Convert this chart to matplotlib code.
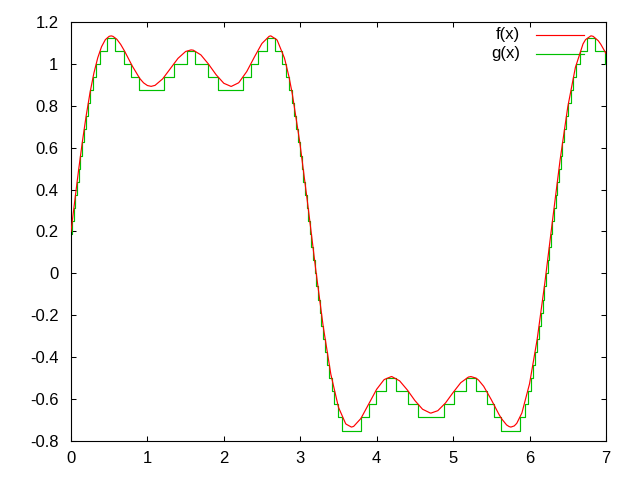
import matplotlib
matplotlib.use('Agg')
import matplotlib.pyplot as plt
from matplotlib.ticker import FuncFormatter

# f(x): smooth curve
f_x = [0.0, 0.1, 0.15, 0.2, 0.25, 0.3, 0.35, 0.4, 0.45, 0.5, 0.527, 0.55, 0.6, 0.65, 0.7,
       0.8, 0.9, 0.95, 1.0, 1.049, 1.1, 1.2, 1.3, 1.4, 1.5, 1.571, 1.6, 1.7, 1.8, 1.9,
       2.0, 2.093, 2.1, 2.192, 2.2, 2.3, 2.4, 2.492, 2.5, 2.592, 2.6, 2.615, 2.692, 2.7,
       2.792, 2.8, 2.852, 2.892, 2.9, 2.992, 3.0, 3.1, 3.2, 3.3, 3.4, 3.5, 3.592, 3.6,
       3.669, 3.692, 3.7, 3.792, 3.8, 3.9, 4.0, 4.092, 4.1, 4.191, 4.2, 4.3, 4.4, 4.5,
       4.6, 4.7, 4.712, 4.8, 4.9, 5.0, 5.1, 5.2, 5.234, 5.3, 5.333, 5.4, 5.5, 5.6, 5.633,
       5.7, 5.733, 5.756, 5.8, 5.833, 5.9, 6.0, 6.1, 6.2, 6.3, 6.4, 6.5, 6.6, 6.7, 6.733,
       6.8, 6.81, 6.833, 6.9, 6.933, 7.0]
f_y = [0.2000, 0.4942, 0.6308, 0.7552, 0.8644, 0.9561, 1.0288, 1.0820, 1.1158, 1.1316,
       1.1336, 1.1313, 1.1175, 1.0932, 1.0618, 0.9912, 0.9303, 0.9094, 0.8967, 0.8927,
       0.8975, 0.9286, 0.9773, 1.0263, 1.0592, 1.0667, 1.0654, 1.0428, 0.9987, 0.9477,
       0.9074, 0.8927, 0.8929, 0.9094, 0.9124, 0.9634, 1.0327, 1.0932, 1.0979, 1.1313,
       1.1324, 1.1336, 1.1158, 1.1114, 1.0288, 1.0180, 0.9393, 0.8644, 0.8472, 0.6308,
       0.6086, 0.3242, 0.0259, -0.2526, -0.4812, -0.6391, -0.7158, -0.7197, -0.7336,
       -0.7313, -0.7299, -0.6932, -0.6883, -0.6207, -0.5531, -0.5094, -0.5066, -0.4927,
       -0.4930, -0.5129, -0.5560, -0.6070, -0.6484, -0.6664, -0.6667, -0.6554, -0.6188,
       -0.5686, -0.5218, -0.4950, -0.4927, -0.5000, -0.5094, -0.5390, -0.6030, -0.6730,
       -0.6932, -0.7235, -0.7313, -0.7336, -0.7282, -0.7158, -0.6664, -0.5274, -0.3148,
       -0.0462, 0.2504, 0.5413, 0.7937, 0.9827, 1.0954, 1.1158, 1.1332, 1.1336, 1.1313,
       1.1103, 1.0932, 1.0502]

# g(x): staircase, start of each step and its level
g_x = [0.0, 0.0167, 0.0376, 0.0587, 0.0802, 0.1021, 0.1245, 0.1478, 0.1721, 0.1978,
       0.2253, 0.2553, 0.2890, 0.3285, 0.3795, 0.4720, 0.5787, 0.6990, 0.7877, 0.8851,
       1.2198, 1.3442, 1.5180, 1.6236, 1.7974, 1.9218, 2.2565, 2.3539, 2.4426, 2.5629,
       2.6696, 2.7621, 2.8131, 2.8526, 2.8863, 2.9163, 2.9438, 2.9695, 2.9938, 3.0171,
       3.0395, 3.0614, 3.0829, 3.1040, 3.1249, 3.1458, 3.1666, 3.1876, 3.2089, 3.2305,
       3.2526, 3.2753, 3.2990, 3.3239, 3.3501, 3.3785, 3.4097, 3.4454, 3.4888, 3.5481,
       3.8011, 3.8937, 3.9854, 4.1251, 4.2546, 4.4128, 4.5386, 4.8862, 5.0120, 5.1702,
       5.2997, 5.4394, 5.5311, 5.6237, 5.8767, 5.9360, 5.9794, 6.0151, 6.0463, 6.0747,
       6.1009, 6.1258, 6.1495, 6.1722, 6.1943, 6.2159, 6.2372, 6.2582, 6.2790, 6.3000,
       6.3208, 6.3419, 6.3634, 6.3853, 6.4077, 6.4310, 6.4553, 6.4810, 6.5085, 6.5385,
       6.5722, 6.6117, 6.6627, 6.7552, 6.8619, 6.9822, 7.0]
g_y = [0.1875, 0.25, 0.3125, 0.375, 0.4375, 0.5, 0.5625, 0.625, 0.6875, 0.75,
       0.8125, 0.875, 0.9375, 1.0, 1.0625, 1.125, 1.0625, 1.0, 0.9375, 0.875,
       0.9375, 1.0, 1.0625, 1.0, 0.9375, 0.875, 0.9375, 1.0, 1.0625, 1.125,
       1.0625, 1.0, 0.9375, 0.875, 0.8125, 0.75, 0.6875, 0.625, 0.5625, 0.5,
       0.4375, 0.375, 0.3125, 0.25, 0.1875, 0.125, 0.0625, 0.0, -0.0625, -0.125,
       -0.1875, -0.25, -0.3125, -0.375, -0.4375, -0.5, -0.5625, -0.625, -0.6875, -0.75,
       -0.6875, -0.625, -0.5625, -0.5, -0.5625, -0.625, -0.6875, -0.625, -0.5625, -0.5,
       -0.5625, -0.625, -0.6875, -0.75, -0.6875, -0.625, -0.5625, -0.5, -0.4375, -0.375,
       -0.3125, -0.25, -0.1875, -0.125, -0.0625, 0.0, 0.0625, 0.125, 0.1875, 0.25,
       0.3125, 0.375, 0.4375, 0.5, 0.5625, 0.625, 0.6875, 0.75, 0.8125, 0.875,
       0.9375, 1.0, 1.0625, 1.125, 1.0625, 1.0, 1.0]

x_ticks = [0, 1, 2, 3, 4, 5, 6, 7]
y_ticks = [-0.8, -0.6, -0.4, -0.2, 0, 0.2, 0.4, 0.6, 0.8, 1, 1.2]

plt.rcParams['font.family'] = ['Liberation Sans', 'DejaVu Sans']
plt.rcParams['axes.unicode_minus'] = False

fig = plt.figure(figsize=(6.4, 4.8), dpi=100)
ax = fig.add_axes([0.1109, 0.0813, 0.8359, 0.8729])

ax.plot(g_x, g_y, drawstyle='steps-post', color='#00c000', lw=0.85, zorder=2)
ax.plot(f_x, f_y, color='#ff0000', lw=0.85, zorder=3)

ax.set_xlim(0, 7)
ax.set_ylim(-0.8, 1.2)
ax.set_xticks(x_ticks)
ax.set_yticks(y_ticks)
fmt = FuncFormatter(lambda v, p: '%g' % round(v, 6))
ax.xaxis.set_major_formatter(fmt)
ax.yaxis.set_major_formatter(fmt)
ax.tick_params(direction='in', length=3.3, width=0.75, top=True, right=True,
               labelsize=12, colors='black')
ax.tick_params(axis='x', pad=7)
ax.tick_params(axis='y', pad=9)
for s in ax.spines.values():
    s.set_linewidth(0.8)

# key in the top right corner, text then line sample
ax.text(0.839, 0.969, 'f(x)', ha='right', va='center', fontsize=12, transform=ax.transAxes)
ax.text(0.839, 0.924, 'g(x)', ha='right', va='center', fontsize=12, transform=ax.transAxes)
ax.plot([0.869, 0.959], [0.969, 0.969], color='#ff0000', lw=0.85, transform=ax.transAxes)
ax.plot([0.869, 0.959], [0.924, 0.924], color='#00c000', lw=0.85, transform=ax.transAxes)

fig.savefig('out.png', dpi=100, facecolor='white')
